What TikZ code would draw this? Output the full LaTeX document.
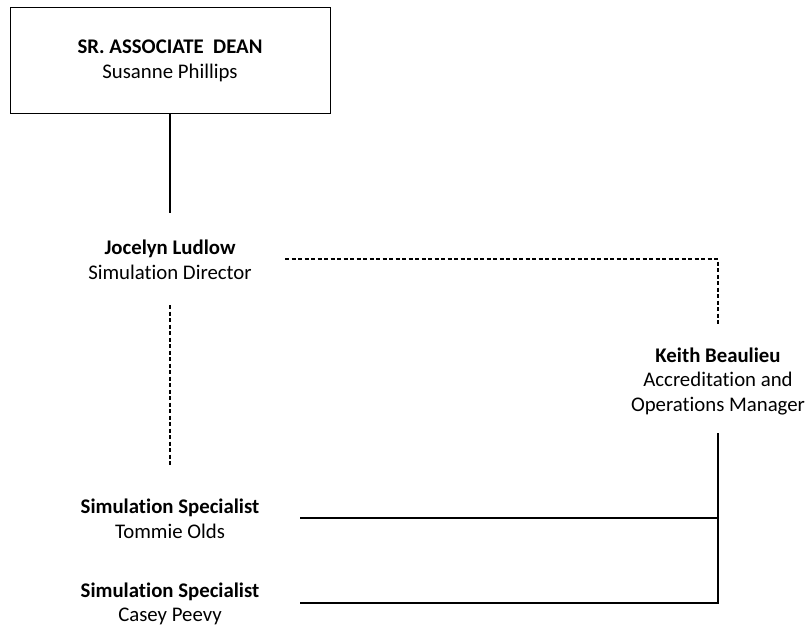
\documentclass[tikz,border=0pt]{standalone}
\usepackage{fontspec}
\setmainfont[RawFeature=-liga]{Carlito}
\begin{document}
\begin{tikzpicture}[x=1pt,y=-1pt,
  person/.style={align=center,font=\fontsize{20.8}{24.5}\selectfont,inner sep=0pt},
  solidline/.style={line width=1.6pt},
  dotline/.style={line width=1.6pt,dash pattern=on 4pt off 2.5pt}]
\useasboundingbox (0,0) rectangle (810,627);
% top box
\draw[line width=0.9pt] (10,7) rectangle (330,113);
\node[person] (dean) at (170,61) {\textbf{SR. ASSOCIATE\ \ DEAN}\\Susanne Phillips};
\coordinate (deanB) at (170,113);
% people
\node[person] (jocelyn) at (170,260) {\textbf{Jocelyn Ludlow}\\Simulation Director};
\node[person] (keith) at (718,381) {\textbf{Keith Beaulieu}\\Accreditation and\\Operations Manager};
\node[person] (tommie) at (170,519) {\textbf{Simulation Specialist}\\Tommie Olds};
\node[person] (casey) at (170,604) {\textbf{Simulation Specialist}\\Casey Peevy};
% connector anchors
\coordinate (jTop) at (170,213);
\coordinate (jRight) at (285,259);
\coordinate (jBot) at (170,305);
\coordinate (jEnd) at (170,465);
\coordinate (kCorner) at (718,259);
\coordinate (kTop) at (718,325);
\coordinate (kBot) at (718,433);
\coordinate (tEnd) at (300,518);
\coordinate (cEnd) at (300,603);
\coordinate (kJoinT) at (718,518);
\coordinate (kJoinC) at (718,603);
% connectors
\draw[solidline] (deanB) -- (jTop);
\draw[dotline] (jRight) -- (kCorner) -- (kTop);
\draw[dotline] (jBot) -- (jEnd);
\draw[solidline] (kBot) -- (kJoinC) -- (cEnd);
\draw[solidline] (kJoinT) -- (tEnd);
\end{tikzpicture}
\end{document}
